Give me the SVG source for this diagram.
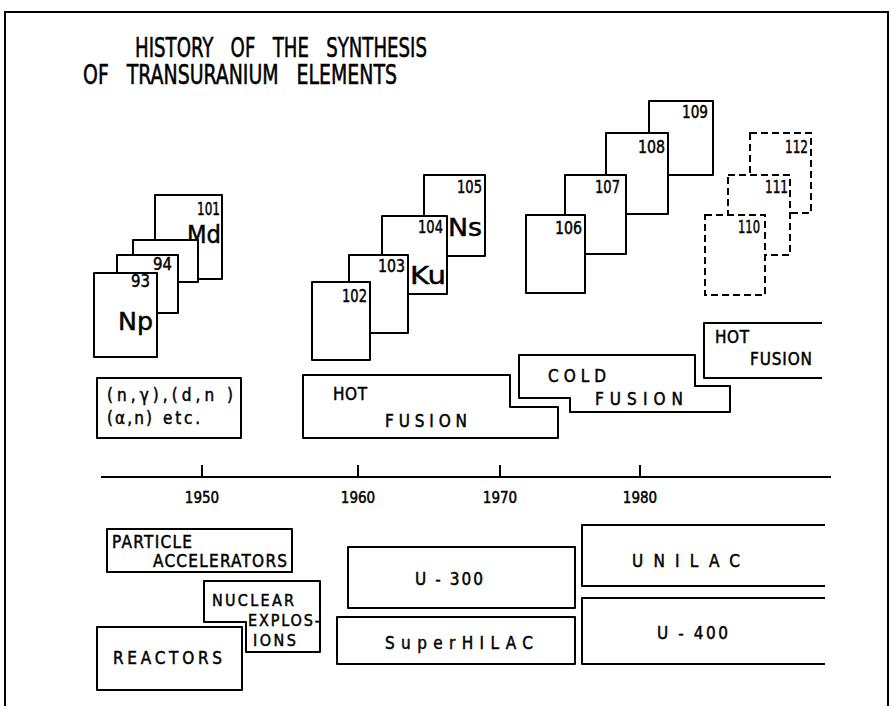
<svg xmlns="http://www.w3.org/2000/svg" width="894" height="706" viewBox="0 0 894 706">
<style>
.b{fill:#fff;stroke:#000;stroke-width:2;stroke-linejoin:round}
.d{fill:#fff;stroke:#000;stroke-width:2;stroke-dasharray:7 4}
.o{fill:none;stroke:#000;stroke-width:2}
text{font-family:"DejaVu Sans Condensed","DejaVu Sans",sans-serif;fill:#000;stroke:#000;stroke-width:0.45}
.t{font-size:26px;stroke-width:0.5;white-space:pre}
.n{font-size:17px;text-anchor:end}
.s{font-size:25px}
.l{font-size:17px}
.m{font-size:16px}
.y{font-size:15px;text-anchor:middle}
</style>
<rect width="894" height="706" fill="#fff"/>
<g id="frame"><path class="o" d="M5,706 V12 H888 V706"/></g>
<g id="title">
<text class="t" x="135" y="57" textLength="292" lengthAdjust="spacingAndGlyphs" xml:space="preserve">HISTORY   OF   THE   SYNTHESIS</text>
<text class="t" x="83" y="84" textLength="314" lengthAdjust="spacingAndGlyphs" xml:space="preserve">OF   TRANSURANIUM   ELEMENTS</text>
</g>
<g id="el101"><rect class="b" x="155" y="195" width="67" height="84"/><text class="n" x="220" y="215" textLength="23" lengthAdjust="spacingAndGlyphs">101</text><text class="s" x="187" y="243" textLength="34" lengthAdjust="spacingAndGlyphs">Md</text></g>
<g id="elmid"><rect class="b" x="133" y="240" width="65" height="42"/></g>
<g id="el94"><rect class="b" x="117" y="255" width="61" height="58"/><text class="n" x="172" y="270" textLength="19" lengthAdjust="spacingAndGlyphs">94</text></g>
<g id="el93"><rect class="b" x="94" y="273" width="63" height="84"/><text class="n" x="150" y="287" textLength="19" lengthAdjust="spacingAndGlyphs">93</text><text class="s" x="118" y="330" textLength="35" lengthAdjust="spacingAndGlyphs">Np</text></g>
<g id="el105"><rect class="b" x="424" y="175" width="61" height="81"/><text class="n" x="482" y="193" textLength="25" lengthAdjust="spacingAndGlyphs">105</text><text class="s" x="448" y="236" textLength="34" lengthAdjust="spacingAndGlyphs">Ns</text></g>
<g id="el104"><rect class="b" x="382" y="216" width="65" height="78"/><text class="n" x="443" y="233" textLength="25" lengthAdjust="spacingAndGlyphs">104</text><text class="s" x="410" y="284" textLength="36" lengthAdjust="spacingAndGlyphs">Ku</text></g>
<g id="el103"><rect class="b" x="349" y="255" width="59" height="78"/><text class="n" x="405" y="272" textLength="27" lengthAdjust="spacingAndGlyphs">103</text></g>
<g id="el102"><rect class="b" x="312" y="282" width="58" height="78"/><text class="n" x="367" y="302" textLength="25" lengthAdjust="spacingAndGlyphs">102</text></g>
<g id="el109"><rect class="b" x="649" y="101" width="64" height="74"/><text class="n" x="708" y="118" textLength="26" lengthAdjust="spacingAndGlyphs">109</text></g>
<g id="el108"><rect class="b" x="606" y="133" width="62" height="81"/><text class="n" x="665" y="153" textLength="27" lengthAdjust="spacingAndGlyphs">108</text></g>
<g id="el107"><rect class="b" x="565" y="175" width="61" height="79"/><text class="n" x="620" y="193" textLength="25" lengthAdjust="spacingAndGlyphs">107</text></g>
<g id="el106"><rect class="b" x="526" y="215" width="59" height="78"/><text class="n" x="582" y="234" textLength="27" lengthAdjust="spacingAndGlyphs">106</text></g>
<g id="el112"><rect class="d" x="750" y="133" width="61" height="80"/><text class="n" x="808" y="153" textLength="23" lengthAdjust="spacingAndGlyphs">112</text></g>
<g id="el111"><rect class="d" x="728" y="175" width="62" height="80"/><text class="n" x="788" y="193" textLength="23" lengthAdjust="spacingAndGlyphs">111</text></g>
<g id="el110"><rect class="d" x="705" y="215" width="60" height="80"/><text class="n" x="760" y="233" textLength="22" lengthAdjust="spacingAndGlyphs">110</text></g>
<g id="reactions"><rect class="b" x="97" y="378" width="144" height="60"/>
<text class="l" x="107" y="401" textLength="126">(n,γ),(d,n )</text>
<text class="l" x="107" y="424" textLength="45">(α,n)</text>
<text class="l" x="163" y="424" textLength="37">etc.</text></g>
<g id="hotfusion1"><path class="b" d="M303,375 H510 V407 H558 V438 H303 Z"/><text class="l" x="333" y="400" textLength="34">HOT</text><text class="l" x="385" y="427" textLength="82">FUSION</text></g>
<g id="coldfusion"><path class="b" d="M519,355 H695 V386 H730 V412 H570 V398 H519 Z"/><text class="l" x="548" y="382" textLength="58">COLD</text><text class="l" x="595" y="405" textLength="88">FUSION</text></g>
<g id="hotfusion2"><path class="b" d="M822,323 H704 V378 H822"/><text class="l" x="715" y="343" textLength="34">HOT</text><text class="l" x="750" y="365" textLength="62">FUSION</text></g>
<g id="axis"><path class="o" d="M101,477 H831 M202,477 V465 M358,477 V465 M500,477 V465 M640,477 V465"/>
<text class="y" x="202" y="503">1950</text><text class="y" x="358" y="503">1960</text><text class="y" x="500" y="503">1970</text><text class="y" x="640" y="503">1980</text></g>
<g id="accelerators"><rect class="b" x="107" y="529" width="185" height="43"/><text class="l" x="112" y="548" textLength="80">PARTICLE</text><text class="l" x="153" y="567" textLength="134">ACCELERATORS</text></g>
<g id="explosions"><path class="b" d="M204,581 H320 V652 H246 V622 H204 Z"/><text class="m" x="212" y="606" textLength="82">NUCLEAR</text><text class="m" x="248" y="626" textLength="72">EXPLOS-</text><text class="m" x="253" y="646" textLength="43">IONS</text></g>
<g id="reactors"><rect class="b" x="97" y="627" width="145" height="63"/><text class="l" x="113" y="664" textLength="109">REACTORS</text></g>
<g id="u300"><rect class="b" x="348" y="547" width="227" height="61"/><text class="l" x="415" y="585" textLength="68">U - 300</text></g>
<g id="superhilac"><rect class="b" x="337" y="617" width="238" height="47"/><text class="l" x="385" y="649" textLength="148">SuperHILAC</text></g>
<g id="unilac"><path class="b" d="M825,525 H582 V586 H825"/><text class="l" x="632" y="567" textLength="108">UNILAC</text></g>
<g id="u400"><path class="b" d="M825,598 H582 V664 H825"/><text class="l" x="657" y="639" textLength="71">U - 400</text></g>
</svg>
